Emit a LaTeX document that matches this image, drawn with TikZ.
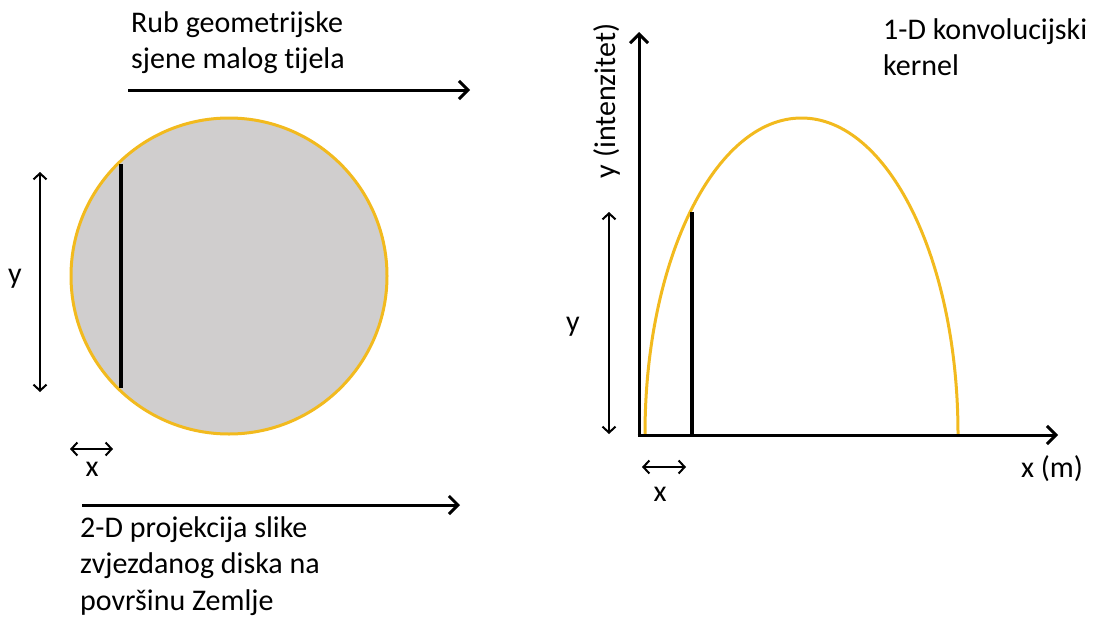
\documentclass[tikz,border=0pt]{standalone}
\usepackage{fontspec}
\setmainfont{Carlito}[Ligatures=NoCommon]
\usetikzlibrary{arrows.meta}
\definecolor{gold}{RGB}{242,186,30}
\definecolor{disk}{RGB}{208,206,206}
\begin{document}
\begin{tikzpicture}[x=1pt,y=-1pt,
  lbl/.style={font=\fontsize{30}{36.6}\selectfont, inner sep=0pt, align=left},
  bigarrow/.style={line width=3pt, -{Straight Barb[length=9pt,width=18pt]}},
  dimarrow/.style={line width=2pt, {Straight Barb[length=6pt,width=13pt]}-{Straight Barb[length=6pt,width=13pt]}},
  bar/.style={line width=4pt},
  goldline/.style={draw=gold, line width=3pt}]
\useasboundingbox (0,0) rectangle (1095,616);

% ---- left panel ----
\node[circle, goldline, fill=disk, minimum size=316pt, inner sep=0pt] (disk) at (229,276) {};
\coordinate (ch1) at (121,164);
\coordinate (ch2) at (121,388);
\draw[bar] (ch1) -- (ch2);

\coordinate (ta1) at (128,90);
\coordinate (ta2) at (470,90);
\draw[bigarrow] (ta1) -- (ta2);
\node[lbl, anchor=north west] (ttext) at (131,11) {Rub geometrijske\\sjene malog tijela};

\coordinate (ly1) at (40,172);
\coordinate (ly2) at (40,392);
\draw[dimarrow] (ly1) -- (ly2);
\node[lbl] (lylab) at (15,279) {y};

\coordinate (lx1) at (70,449);
\coordinate (lx2) at (113,449);
\draw[dimarrow] (lx1) -- (lx2);
\node[lbl] (lxlab) at (92,469) {x};

\coordinate (ba1) at (82,505);
\coordinate (ba2) at (460,505);
\draw[bigarrow] (ba1) -- (ba2);
\node[lbl, anchor=north west] (btext) at (80,516) {2-D projekcija slike\\zvjezdanog diska na\\površinu Zemlje};

% ---- right panel ----
\coordinate (k0) at (645,434);
\draw[goldline] (k0) arc[start angle=180, end angle=360, x radius=156.5, y radius=316];
\coordinate (rb1) at (692,212);
\coordinate (rb2) at (692,434);
\draw[bar] (rb1) -- (rb2);

\coordinate (o) at (639,435);
\coordinate (yend) at (639,32);
\coordinate (xend) at (1058,435);
\draw[bigarrow] ([yshift=1.5pt]o) -- (yend);
\draw[bigarrow] ([xshift=-1.5pt]o) -- (xend);

\node[lbl, rotate=90] (ylab) at (607,101) {y (intenzitet)};
\node[lbl] (xlab) at (1052,469) {x (m)};

\coordinate (ry1) at (609,212);
\coordinate (ry2) at (609,434);
\draw[dimarrow] (ry1) -- (ry2);
\node[lbl] (rylab) at (573,327) {y};

\coordinate (rx1) at (642,467);
\coordinate (rx2) at (686,467);
\draw[dimarrow] (rx1) -- (rx2);
\node[lbl] (rxlab) at (660,494) {x};

\node[lbl, anchor=north west] (ktext) at (883,18) {1-D konvolucijski\\kernel};
\end{tikzpicture}
\end{document}
